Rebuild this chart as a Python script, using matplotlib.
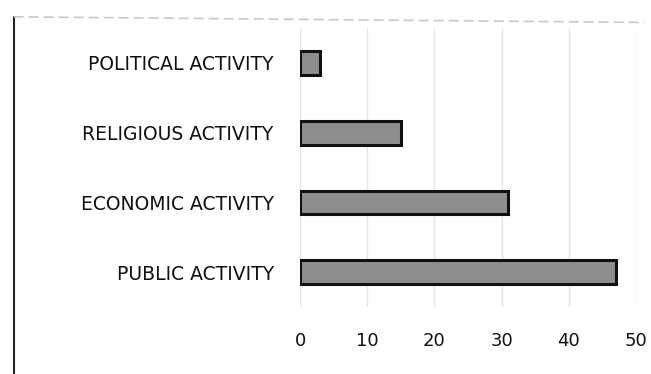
import matplotlib
matplotlib.use("Agg")
import matplotlib.pyplot as plt
from matplotlib.lines import Line2D

categories = ["PUBLIC ACTIVITY", "ECONOMIC ACTIVITY", "RELIGIOUS ACTIVITY", "POLITICAL ACTIVITY"]
values = [47, 31, 15, 3]
xticks = [0, 10, 20, 30, 40, 50]

plt.rcParams['font.family'] = ['DejaVu Sans']

fig = plt.figure(figsize=(6.51, 3.74), dpi=100)
ax = fig.add_axes([0.461, 0.179, 0.516, 0.746])

ax.barh(range(len(categories)), values, height=0.34, color="#8e8e8e",
        edgecolor="#111111", linewidth=2.2, zorder=3)
ax.set_yticks(range(len(categories)))
ax.set_yticklabels(categories, fontsize=13.5, color="#111111")
ax.set_xticks(xticks)
ax.set_xticklabels([str(t) for t in xticks], fontsize=13, color="#111111")
ax.set_xlim(0, 50)
ax.set_ylim(-0.5, 3.5)
ax.tick_params(axis='y', length=0, pad=19)
ax.tick_params(axis='x', length=0, pad=18)
ax.grid(axis='x', color="#e6e6e6", linewidth=1, zorder=0)
for s in ax.spines.values():
    s.set_visible(False)

# chart frame fragments
fig.add_artist(Line2D([0.021, 0.021], [0.0, 0.955], transform=fig.transFigure,
                      color="#222222", linewidth=1.5))
fig.add_artist(Line2D([0.021, 0.99], [0.955, 0.94], transform=fig.transFigure,
                      color="#c8c8c8", linewidth=1.2, linestyle=(0, (6, 3))))

fig.savefig("out.png", dpi=100, facecolor="white")
